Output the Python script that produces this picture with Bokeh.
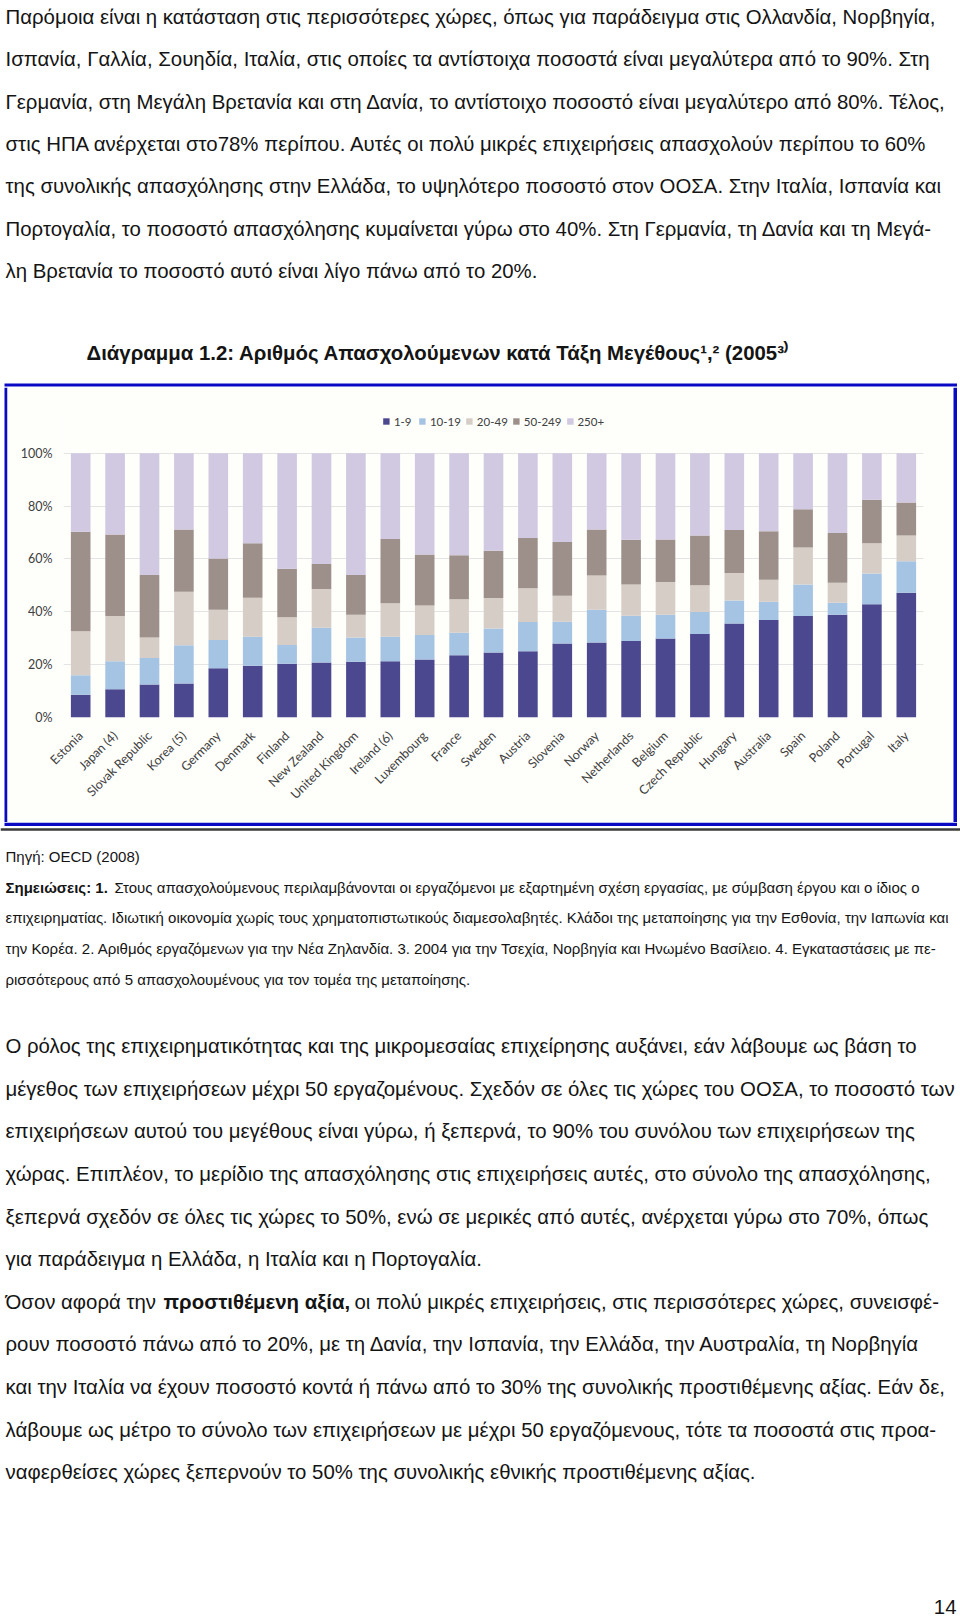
from bokeh.plotting import figure
from bokeh.models import (ColumnDataSource, Range1d, FixedTicker, PrintfTickFormatter,
                          Legend, LegendItem)
from bokeh.layouts import column, row
from bokeh.core.properties import value
from bokeh.embed import file_html
from bokeh.resources import INLINE
import math

# ---------------- data ----------------
countries = ["Estonia", "Japan (4)", "Slovak Republic", "Korea (5)", "Germany", "Denmark",
             "Finland", "New Zealand", "United Kingdom", "Ireland (6)", "Luxembourg", "France",
             "Sweden", "Austria", "Slovenia", "Norway", "Netherlands", "Belgium",
             "Czech Republic", "Hungary", "Australia", "Spain", "Poland", "Portugal", "Italy"]
size_classes = ["1-9", "10-19", "20-49", "50-249", "250+"]
s_1_9 = [8.6, 10.7, 12.5, 12.9, 18.6, 19.6, 20.3, 20.8, 21.1, 21.3, 22.0, 23.6, 24.6, 25.1,
         28.0, 28.4, 29.0, 29.9, 31.6, 35.6, 36.9, 38.4, 38.9, 42.9, 47.2]
s_10_19 = [7.4, 10.6, 10.0, 14.4, 10.7, 11.0, 7.1, 13.2, 9.2, 9.3, 9.2, 8.5, 9.1, 11.0,
           8.2, 12.4, 9.5, 9.0, 8.3, 8.7, 6.9, 11.9, 4.5, 11.6, 11.9]
s_20_49 = [16.6, 17.1, 7.8, 20.3, 11.5, 14.7, 10.5, 14.6, 8.6, 12.6, 11.2, 12.7, 11.5, 12.8,
           9.9, 12.9, 11.8, 12.4, 10.2, 10.4, 8.3, 14.0, 7.6, 11.5, 9.8]
s_50_249 = [37.7, 30.9, 23.6, 23.6, 19.4, 20.7, 18.4, 9.5, 15.0, 24.4, 19.3, 16.6, 17.9, 19.0,
            20.3, 17.5, 17.0, 16.1, 18.8, 16.3, 18.4, 14.5, 18.8, 16.4, 12.5]
s_250 = [29.7, 30.7, 46.1, 28.8, 39.8, 34.0, 43.7, 41.9, 46.1, 32.4, 38.3, 38.6, 36.9, 32.1,
         33.6, 28.8, 32.7, 32.6, 31.1, 29.0, 29.5, 21.2, 30.2, 17.6, 18.6]
y_ticks = [0, 20, 40, 60, 80, 100]

top_lines = [
    "Παρόμοια είναι η κατάσταση στις περισσότερες χώρες, όπως για παράδειγμα στις Ολλανδία, Νορβηγία,",
    "Ισπανία, Γαλλία, Σουηδία, Ιταλία, στις οποίες τα αντίστοιχα ποσοστά είναι μεγαλύτερα από το 90%. Στη",
    "Γερμανία, στη Μεγάλη Βρετανία και στη Δανία, το αντίστοιχο ποσοστό είναι μεγαλύτερο από 80%. Τέλος,",
    "στις ΗΠΑ ανέρχεται στο78% περίπου. Αυτές οι πολύ μικρές επιχειρήσεις απασχολούν περίπου το 60%",
    "της συνολικής απασχόλησης στην Ελλάδα, το υψηλότερο ποσοστό στον ΟΟΣΑ. Στην Ιταλία, Ισπανία και",
    "Πορτογαλία, το ποσοστό απασχόλησης κυμαίνεται γύρω στο 40%. Στη Γερμανία, τη Δανία και τη Μεγά-",
    "λη Βρετανία το ποσοστό αυτό είναι λίγο πάνω από το 20%.",
]
title_text = "Διάγραμμα 1.2: Αριθμός Απασχολούμενων κατά Τάξη Μεγέθους¹,² (2005³⁾"
source_text = "Πηγή: OECD (2008)"
notes_bold = "Σημειώσεις: 1."
notes_lines = [
    "Στους απασχολούμενους περιλαμβάνονται οι εργαζόμενοι με εξαρτημένη σχέση εργασίας, με σύμβαση έργου και ο ίδιος ο",
    "επιχειρηματίας. Ιδιωτική οικονομία χωρίς τους χρηματοπιστωτικούς διαμεσολαβητές. Κλάδοι της μεταποίησης για την Εσθονία, την Ιαπωνία και",
    "την Κορέα. 2. Αριθμός εργαζόμενων για την Νέα Ζηλανδία. 3. 2004 για την Τσεχία, Νορβηγία και Ηνωμένο Βασίλειο. 4. Εγκαταστάσεις με πε-",
    "ρισσότερους από 5 απασχολουμένους για τον τομέα της μεταποίησης.",
]
bottom_lines = [
    "Ο ρόλος της επιχειρηματικότητας και της μικρομεσαίας επιχείρησης αυξάνει, εάν λάβουμε ως βάση το",
    "μέγεθος των επιχειρήσεων μέχρι 50 εργαζομένους. Σχεδόν σε όλες τις χώρες του ΟΟΣΑ, το ποσοστό των",
    "επιχειρήσεων αυτού του μεγέθους είναι γύρω, ή ξεπερνά, το 90% του συνόλου των επιχειρήσεων της",
    "χώρας. Επιπλέον, το μερίδιο της απασχόλησης στις επιχειρήσεις αυτές, στο σύνολο της απασχόλησης,",
    "ξεπερνά σχεδόν σε όλες τις χώρες το 50%, ενώ σε μερικές από αυτές, ανέρχεται γύρω στο 70%, όπως",
    "για παράδειγμα η Ελλάδα, η Ιταλία και η Πορτογαλία.",
    None,
    "ρουν ποσοστό πάνω από το 20%, με τη Δανία, την Ισπανία, την Ελλάδα, την Αυστραλία, τη Νορβηγία",
    "και την Ιταλία να έχουν ποσοστό κοντά ή πάνω από το 30% της συνολικής προστιθέμενης αξίας. Εάν δε,",
    "λάβουμε ως μέτρο το σύνολο των επιχειρήσεων με μέχρι 50 εργαζόμενους, τότε τα ποσοστά στις προα-",
    "ναφερθείσες χώρες ξεπερνούν το 50% της συνολικής εθνικής προστιθέμενης αξίας.",
]
va_pre = "Όσον αφορά την "
va_bold = "προστιθέμενη αξία,"
va_post = "οι πολύ μικρές επιχειρήσεις, στις περισσότερες χώρες, συνεισφέ-"
page_no = "14"

# ---------------- styling ----------------
TXT_FONT = value("Liberation Sans")
CH_FONT = "Lato"
INK = "#141414"
BLUE = "#0A0AC4"
CREAM = "#FEFEFB"
colors = ["#4B4890", "#A5C3E3", "#D6CDC7", "#9D908B", "#D1C8E2"]
W = 960
BODY = "20.4px"
NOTE = "15px"
X0 = 5


def blank_fig(x0, x1, top, bottom):
    f = figure(width=int(x1 - x0), height=int(bottom - top), x_range=Range1d(x0, x1),
               y_range=Range1d(bottom, top), output_backend="svg", toolbar_location=None,
               x_axis_type=None, y_axis_type=None, min_border=0, tools="",
               frame_align=False)
    f.grid.visible = False
    f.outline_line_color = None
    f.background_fill_color = "white"
    f.border_fill_color = "white"
    return f


def add_lines(f, lines, y0, dy, size, x=X0):
    ys, xs, ts = [], [], []
    for i, t in enumerate(lines):
        if t is None:
            continue
        xs.append(x); ys.append(y0 + i * dy); ts.append(t)
    f.text(x=xs, y=ys, text=ts, text_font=TXT_FONT, text_font_size=size,
           text_color=INK, text_baseline="alphabetic", text_align="left")


# ---- top text (page y 0..387) ----
top = blank_fig(0, W, 0, 387)
add_lines(top, top_lines, 16.5, 42.3, BODY)
top.text(x=[86], y=[352.4], text=[title_text], text_font=TXT_FONT, text_font_size=BODY,
         text_font_style="bold", text_color=INK, text_baseline="alphabetic")
top.quad(left=[7], right=[953], top=[386], bottom=[388], color=CREAM, line_color=None)
top.quad(left=[4], right=[956.5], top=[383], bottom=[386], color=BLUE, line_color=None)

# ---- chart (page y 387..822, x 8..952) ----
src = ColumnDataSource(dict(country=countries, s1=s_1_9, s2=s_10_19, s3=s_20_49,
                            s4=s_50_249, s5=s_250))
p = figure(x_range=countries, y_range=Range1d(0, 116.2), width=944, height=435,
           output_backend="svg", toolbar_location=None, tools="", frame_align=False,
           min_border_left=55, min_border_right=29, min_border_top=23, min_border_bottom=105)
rs = p.vbar_stack(["s1", "s2", "s3", "s4", "s5"], x="country", width=0.57, source=src,
                  color=colors, line_color=None)
p.background_fill_color = CREAM
p.border_fill_color = CREAM
p.outline_line_color = None
p.xgrid.grid_line_color = None
p.ygrid.grid_line_color = "#E4E4E4"
p.yaxis.ticker = FixedTicker(ticks=y_ticks)
p.yaxis.formatter = PrintfTickFormatter(format="%d%%")
for ax in (p.xaxis[0], p.yaxis[0]):
    ax.axis_line_color = None
    ax.major_tick_line_color = None
    ax.minor_tick_line_color = None
    ax.major_label_text_font = CH_FONT
    ax.major_label_text_font_size = "12.5px"
    ax.major_label_text_color = "#404040"
p.yaxis.major_label_standoff = 5
p.xaxis.major_label_orientation = math.pi / 4
p.xaxis.major_label_standoff = 10
p.x_range.range_padding = 0.0
p.x_range.factor_padding = 0.0

legend = Legend(items=[LegendItem(label=lab, renderers=[r]) for lab, r in zip(size_classes, rs)],
                orientation="horizontal", location="top_center")
legend.border_line_color = None
legend.background_fill_alpha = 0
legend.label_text_font = CH_FONT
legend.label_text_font_size = "11.5px"
legend.label_text_color = "#404040"
legend.glyph_width = 8
legend.glyph_height = 8
legend.label_standoff = 4
legend.spacing = 4
legend.padding = 0
legend.margin = 4
legend.label_height = 14
p.add_layout(legend)

left_strip = blank_fig(0, 8, 387, 822)
left_strip.quad(left=[4], right=[7], top=[387], bottom=[822], color=BLUE, line_color=None)
left_strip.quad(left=[7], right=[8], top=[387], bottom=[822], color=CREAM, line_color=None)
right_strip = blank_fig(952, 960, 387, 822)
right_strip.quad(left=[952], right=[953], top=[387], bottom=[822], color=CREAM, line_color=None)
right_strip.quad(left=[953], right=[956.5], top=[387], bottom=[822], color=BLUE, line_color=None)

# ---- bottom text (page y 822..1618) ----
bot = blank_fig(0, W, 822, 1618)
bot.quad(left=[4], right=[956.5], top=[822], bottom=[825.5], color=BLUE, line_color=None)
bot.segment(x0=[0], y0=[829], x1=[W], y1=[829], line_color="#3A3A3A", line_width=2.5)
bot.text(x=[X0], y=[855.6], text=[source_text], text_font=TXT_FONT, text_font_size=NOTE,
         text_color=INK, text_baseline="alphabetic")
bot.text(x=[X0], y=[886.6], text=[notes_bold], text_font=TXT_FONT, text_font_size=NOTE,
         text_font_style="bold", text_color=INK, text_baseline="alphabetic")
bot.text(x=[114], y=[886.6], text=[notes_lines[0]], text_font=TXT_FONT, text_font_size=NOTE,
         text_color=INK, text_baseline="alphabetic")
add_lines(bot, notes_lines[1:], 917.4, 31, NOTE)
add_lines(bot, bottom_lines, 1045.7, 42.6, BODY)
yv = 1045.7 + 6 * 42.6
bot.text(x=[X0], y=[yv], text=[va_pre], text_font=TXT_FONT, text_font_size=BODY,
         text_color=INK, text_baseline="alphabetic")
bot.text(x=[163], y=[yv], text=[va_bold], text_font=TXT_FONT, text_font_size=BODY,
         text_font_style="bold", text_color=INK, text_baseline="alphabetic")
bot.text(x=[354], y=[yv], text=[va_post], text_font=TXT_FONT, text_font_size=BODY,
         text_color=INK, text_baseline="alphabetic")
bot.text(x=[956], y=[1606], text=[page_no], text_font=TXT_FONT, text_font_size=BODY,
         text_color=INK, text_baseline="middle", text_align="right")

layout = column(top, row(left_strip, p, right_strip, spacing=0), bot, spacing=0)
open("out.html", "w").write(file_html(layout, INLINE))
